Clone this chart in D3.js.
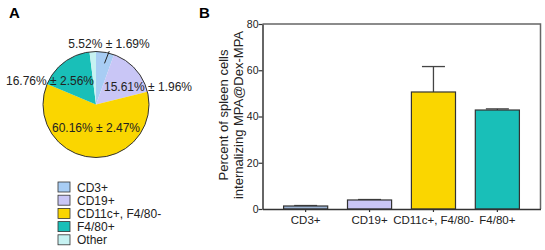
<!DOCTYPE html>
<html>
<head>
<meta charset="utf-8">
<script src="https://cdn.jsdelivr.net/npm/d3@7"></script>
<style>
  body { margin: 0; background: #fff; }
  svg { font-family: "Liberation Sans", Arial, sans-serif; }
</style>
</head>
<body>
<script>
// data
var pieCategories = ["CD3+", "CD19+", "CD11c+, F4/80-", "F4/80+", "Other"];
var pieValues = [5.52, 15.61, 60.16, 16.76, 1.95];
var pieErrors = [1.69, 1.96, 2.47, 2.56, null];
var colors = ["#a8cdf4", "#c9c6f6", "#fad600", "#19bfb8", "#c6f2f2"];

var barCategories = ["CD3+", "CD19+", "CD11c+, F4/80-", "F4/80+"];
var barValues = [1.3, 3.9, 50.6, 42.8];
var barErrors = [0.2, 0.2, 11.0, 0.5];
var yTicks = [0, 20, 40, 60, 80];

var w = 545, h = 250;

var svg = d3.select("body").append("svg")
    .attr("width", w)
    .attr("height", h);

// panel letters
svg.append("text").attr("x", 9).attr("y", 18).text("A")
   .attr("font-size", "15px").attr("font-weight", "bold");
svg.append("text").attr("x", 199).attr("y", 18).text("B")
   .attr("font-size", "15px").attr("font-weight", "bold");

// ---------- A: pie
var cx = 96, cy = 104.5, r = 53;
var pie = d3.pie().sort(null).value(function(d) { return d; });
var arcs = pie(pieValues);
var arc = d3.arc().innerRadius(0).outerRadius(r);

var gPie = svg.append("g").attr("transform", "translate(" + cx + "," + cy + ")");
gPie.selectAll("path")
    .data(arcs)
    .enter()
    .append("path")
    .attr("d", arc)
    .attr("fill", function(d, i) { return colors[i]; });
gPie.append("circle").attr("r", r)
    .attr("fill", "none").attr("stroke", "#333").attr("stroke-width", 1);

// label offsets from pie centre (text middle)
var labelOffsets = [[13, -57], [52, -14], [0, 27], [-46, -20]];
gPie.selectAll("text.pl")
    .data(arcs.slice(0, 4))
    .enter()
    .append("text")
    .attr("class", "pl")
    .attr("x", function(d, i) { return labelOffsets[i][0]; })
    .attr("y", function(d, i) { return labelOffsets[i][1]; })
    .attr("text-anchor", "middle")
    .attr("font-size", "12px")
    .attr("fill", "#222")
    .text(function(d, i) { return pieValues[i].toFixed(2) + "% \u00b1 " + pieErrors[i].toFixed(2) + "%"; });

// leader line for the small CD3+ slice
var a0 = (arcs[0].startAngle + arcs[0].endAngle) / 2 + 0.03;
gPie.append("line")
    .attr("x1", Math.sin(a0) * 42).attr("y1", -Math.cos(a0) * 42)
    .attr("x2", Math.sin(a0 + 0.04) * 55).attr("y2", -Math.cos(a0 + 0.04) * 55)
    .attr("stroke", "#222").attr("stroke-width", 1);

// legend
var legend = svg.append("g").attr("transform", "translate(58,182)");
var row = legend.selectAll("g")
    .data(pieCategories)
    .enter()
    .append("g")
    .attr("transform", function(d, i) { return "translate(0," + (i * 13.2) + ")"; });
row.append("rect")
    .attr("width", 12).attr("height", 10)
    .attr("fill", function(d, i) { return colors[i]; })
    .attr("stroke", "#333").attr("stroke-width", 0.8);
row.append("text")
    .attr("x", 19).attr("y", 9.5)
    .attr("font-size", "12px")
    .attr("fill", "#222")
    .text(function(d) { return d; });

// ---------- B: bars
var xLeft = 262.5, xRight = 540.5, yTop = 24, yBottom = 209;

var xScale = d3.scaleBand()
    .domain(barCategories)
    .range([xLeft, xRight])
    .paddingInner(0.31)
    .paddingOuter(0.33);
var yScale = d3.scaleLinear()
    .domain([0, 80])
    .range([yBottom, yTop]);

// frame (top + right)
svg.append("path")
   .attr("d", "M" + xLeft + "," + yTop + "H" + xRight + "V" + yBottom)
   .attr("fill", "none").attr("stroke", "#666").attr("stroke-width", 1.5);

var bw = xScale.bandwidth();
svg.selectAll("line.err")
   .data(barValues)
   .enter()
   .append("line")
   .attr("class", "err")
   .attr("x1", function(d, i) { return xScale(barCategories[i]) + bw / 2; })
   .attr("x2", function(d, i) { return xScale(barCategories[i]) + bw / 2; })
   .attr("y1", function(d) { return yScale(d); })
   .attr("y2", function(d, i) { return yScale(d + barErrors[i]); })
   .attr("stroke", "#444").attr("stroke-width", 1.3);
svg.selectAll("line.cap")
   .data(barValues)
   .enter()
   .append("line")
   .attr("class", "cap")
   .attr("x1", function(d, i) { return xScale(barCategories[i]) + bw / 2 - 11.5; })
   .attr("x2", function(d, i) { return xScale(barCategories[i]) + bw / 2 + 11.5; })
   .attr("y1", function(d, i) { return yScale(d + barErrors[i]); })
   .attr("y2", function(d, i) { return yScale(d + barErrors[i]); })
   .attr("stroke", "#444").attr("stroke-width", 1.3);

svg.selectAll("rect.bar")
   .data(barValues)
   .enter()
   .append("rect")
   .attr("class", "bar")
   .attr("x", function(d, i) { return xScale(barCategories[i]); })
   .attr("y", function(d) { return yScale(d); })
   .attr("width", bw)
   .attr("height", function(d) { return yBottom - yScale(d); })
   .attr("fill", function(d, i) { return i === 0 ? "#9db4d4" : colors[i]; })
   .attr("stroke", "#333").attr("stroke-width", 1.2);

// axes
var yAxis = d3.axisLeft(yScale).tickValues(yTicks).tickSize(4).tickSizeOuter(0);
var xAxis = d3.axisBottom(xScale).tickSize(3).tickSizeOuter(0);

var gy = svg.append("g")
   .attr("transform", "translate(" + xLeft + ",0)")
   .call(yAxis);
var gx = svg.append("g")
   .attr("transform", "translate(0," + yBottom + ")")
   .call(xAxis);

[gx, gy].forEach(function(g) {
  g.select(".domain").attr("stroke", "#333").attr("stroke-width", 1.5);
  g.selectAll(".tick line").attr("stroke", "#333").attr("stroke-width", 1.2);
  g.selectAll(".tick text")
   .attr("font-family", "Liberation Sans, Arial, sans-serif")
   .attr("font-size", "11.5px")
   .attr("fill", "#222");
});
gy.selectAll(".tick text").attr("x", -4).attr("font-size", "10.5px");
gx.selectAll(".tick text").attr("y", 7);

// y title
var title = svg.append("text")
   .attr("transform", "translate(228,115) rotate(-90)")
   .attr("text-anchor", "middle")
   .attr("font-size", "13px")
   .attr("fill", "#222");
title.append("tspan").attr("x", 0).attr("dy", 0).text("Percent of spleen cells");
title.append("tspan").attr("x", 0).attr("dy", 15).text("internalizing MPA@Dex-MPA");
</script>
</body>
</html>
